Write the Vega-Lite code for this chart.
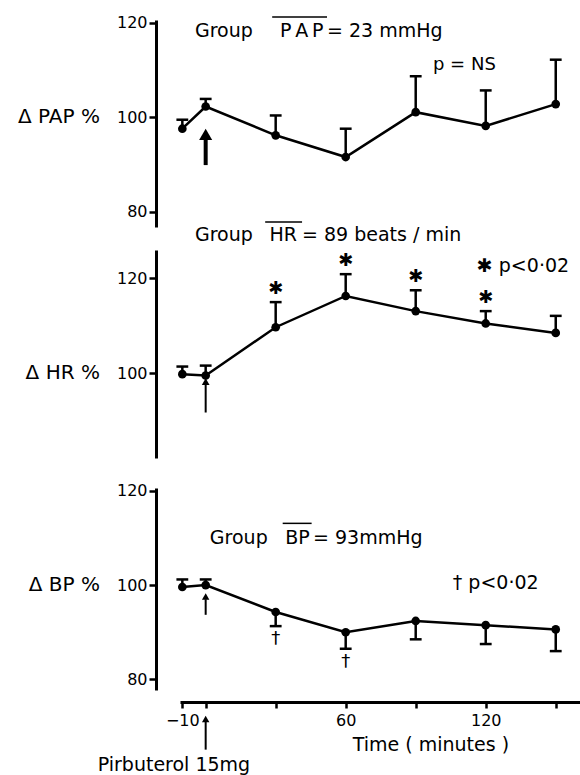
{
  "$schema": "https://vega.github.io/schema/vega-lite/v6.json",
  "autosize": {"type": "none"},
  "padding": {"left": 180, "top": 20, "right": 400, "bottom": 755},
  "background": "white",
  "bounds": "flush",
  "spacing": 23,
  "config": {
    "view": {"stroke": null},
    "text": {"font": "DejaVu Sans", "color": "black", "fill": "black"},
    "axis": {"labelFont": "DejaVu Sans", "labelColor": "black", "domainColor": "black", "tickColor": "black", "grid": false, "domainCap": "butt"}
  },
  "datasets": {
    "pap": [
      {"t": -10, "v": 97.6, "e": 99.5},
      {"t": 0, "v": 102.3, "e": 103.9},
      {"t": 30, "v": 96.2, "e": 100.4},
      {"t": 60, "v": 91.6, "e": 97.6},
      {"t": 90, "v": 101.1, "e": 108.7},
      {"t": 120, "v": 98.2, "e": 105.7},
      {"t": 150, "v": 102.8, "e": 112.2}
    ],
    "hr": [
      {"t": -10, "v": 99.8, "e": 101.4, "sig": false},
      {"t": 0, "v": 99.5, "e": 101.6, "sig": false},
      {"t": 30, "v": 109.7, "e": 115.0, "sig": true},
      {"t": 60, "v": 116.3, "e": 120.9, "sig": true},
      {"t": 90, "v": 113.1, "e": 117.5, "sig": true},
      {"t": 120, "v": 110.5, "e": 113.1, "sig": true},
      {"t": 150, "v": 108.5, "e": 112.1, "sig": false}
    ],
    "bp": [
      {"t": -10, "v": 99.6, "e": 101.2, "sig": false},
      {"t": 0, "v": 100.0, "e": 101.2, "sig": false},
      {"t": 30, "v": 94.3, "e": 91.3, "sig": true},
      {"t": 60, "v": 90.0, "e": 86.5, "sig": true},
      {"t": 90, "v": 92.4, "e": 88.5, "sig": false},
      {"t": 120, "v": 91.5, "e": 87.5, "sig": false},
      {"t": 150, "v": 90.6, "e": 86.0, "sig": false}
    ]
  },
  "vconcat": [
    {
      "width": 400,
      "height": 207,
      "layer": [
        {
          "data": {"name": "pap"},
          "mark": {"type": "rule", "color": "black", "strokeWidth": 2.5},
          "encoding": {
            "x": {"field": "t", "type": "quantitative", "scale": {"domain": [-11, 160.4], "nice": false, "zero": false}, "axis": null},
            "y": {"field": "v", "type": "quantitative", "title": null, "scale": {"domain": [76.8, 120.6], "nice": false, "zero": false},
                  "axis": {"values": [80, 100, 120], "offset": 24, "tickSize": 7, "tickWidth": 2.5, "domainWidth": 3, "labelFontSize": 16, "labelPadding": 2}},
            "y2": {"field": "e"}
          }
        },
        {
          "data": {"name": "pap"},
          "mark": {"type": "point", "shape": "M-1,0L1,0", "color": "black", "strokeWidth": 2.5, "size": 140, "opacity": 1},
          "encoding": {
            "x": {"field": "t", "type": "quantitative"},
            "y": {"field": "e", "type": "quantitative", "title": null}
          }
        },
        {
          "data": {"name": "pap"},
          "mark": {"type": "line", "color": "black", "strokeWidth": 2.5},
          "encoding": {
            "x": {"field": "t", "type": "quantitative"},
            "y": {"field": "v", "type": "quantitative", "title": null}
          }
        },
        {
          "data": {"name": "pap"},
          "mark": {"type": "circle", "color": "black", "size": 75, "opacity": 1},
          "encoding": {
            "x": {"field": "t", "type": "quantitative"},
            "y": {"field": "v", "type": "quantitative", "title": null}
          }
        },
        {
          "data": {"values": [{"t": 0, "a": 89.9, "b": 95.8}]},
          "mark": {"type": "rule", "color": "black", "strokeWidth": 4},
          "encoding": {
            "x": {"field": "t", "type": "quantitative"},
            "y": {"field": "a", "type": "quantitative", "title": null},
            "y2": {"field": "b"}
          }
        },
        {
          "data": {"values": [{"t": 0, "a": 96.4}]},
          "mark": {"type": "point", "shape": "triangle-up", "filled": true, "color": "black", "size": 170, "opacity": 1},
          "encoding": {
            "x": {"field": "t", "type": "quantitative"},
            "y": {"field": "a", "type": "quantitative", "title": null}
          }
        },
        {
          "data": {"values": [{"t": 28.5, "t2": 52.0, "y": 121.25}]},
          "mark": {"type": "rule", "color": "black", "strokeWidth": 1.5},
          "encoding": {
            "x": {"field": "t", "type": "quantitative"},
            "x2": {"field": "t2"},
            "y": {"field": "y", "type": "quantitative", "title": null}
          }
        },
        {
          "data": {"values": [{"t": -45.3, "y": 100, "label": "Δ PAP %"}]},
          "mark": {"type": "text", "align": "right", "baseline": "middle", "fontSize": 20, "color": "black"},
          "encoding": {
            "x": {"field": "t", "type": "quantitative"},
            "y": {"field": "y", "type": "quantitative", "title": null},
            "text": {"field": "label"}
          }
        },
        {
          "data": {"values": [
            {"t": -4.6, "y": 118.3, "label": "Group"},
            {"t": 52.0, "y": 118.3, "label": "= 23 mmHg"}
          ]},
          "mark": {"type": "text", "align": "left", "baseline": "middle", "fontSize": 19, "color": "black"},
          "encoding": {
            "x": {"field": "t", "type": "quantitative"},
            "y": {"field": "y", "type": "quantitative", "title": null},
            "text": {"field": "label"}
          }
        },
        {
          "data": {"values": [
            {"t": 41.2, "y": 118.3, "label": "P\u2009A\u2009P"}
          ]},
          "mark": {"type": "text", "align": "center", "baseline": "middle", "fontSize": 19, "color": "black"},
          "encoding": {
            "x": {"field": "t", "type": "quantitative"},
            "y": {"field": "y", "type": "quantitative", "title": null},
            "text": {"field": "label"}
          }
        },
        {
          "data": {"values": [
            {"t": 97.4, "y": 111.1, "label": "p = NS"}
          ]},
          "mark": {"type": "text", "align": "left", "baseline": "middle", "fontSize": 18, "color": "black"},
          "encoding": {
            "x": {"field": "t", "type": "quantitative"},
            "y": {"field": "y", "type": "quantitative", "title": null},
            "text": {"field": "label"}
          }
        }
      ]
    },
    {
      "bounds": "flush",
      "spacing": 30,
      "vconcat": [
        {
          "width": 400,
          "height": 208,
          "layer": [
            {
              "data": {"name": "hr"},
              "mark": {"type": "rule", "color": "black", "strokeWidth": 2.5},
              "encoding": {
                "x": {"field": "t", "type": "quantitative", "scale": {"domain": [-11, 160.4], "nice": false, "zero": false}, "axis": null},
                "y": {"field": "v", "type": "quantitative", "title": null, "scale": {"domain": [82.1, 126], "nice": false, "zero": false},
                      "axis": {"values": [80, 100, 120], "offset": 24, "tickSize": 7, "tickWidth": 2.5, "domainWidth": 3, "labelFontSize": 16, "labelPadding": 2}},
                "y2": {"field": "e"}
              }
            },
            {
              "data": {"name": "hr"},
              "mark": {"type": "point", "shape": "M-1,0L1,0", "color": "black", "strokeWidth": 2.5, "size": 140, "opacity": 1},
              "encoding": {
                "x": {"field": "t", "type": "quantitative"},
                "y": {"field": "e", "type": "quantitative", "title": null}
              }
            },
            {
              "data": {"name": "hr"},
              "mark": {"type": "line", "color": "black", "strokeWidth": 2.5},
              "encoding": {
                "x": {"field": "t", "type": "quantitative"},
                "y": {"field": "v", "type": "quantitative", "title": null}
              }
            },
            {
              "data": {"name": "hr"},
              "mark": {"type": "circle", "color": "black", "size": 75, "opacity": 1},
              "encoding": {
                "x": {"field": "t", "type": "quantitative"},
                "y": {"field": "v", "type": "quantitative", "title": null}
              }
            },
            {
              "data": {"name": "hr"},
              "transform": [{"filter": "datum.sig"}],
              "mark": {"type": "text", "text": "✱", "fontSize": 18, "baseline": "middle", "align": "center", "dy": -13, "color": "black", "fill": "black"},
              "encoding": {
                "x": {"field": "t", "type": "quantitative"},
                "y": {"field": "e", "type": "quantitative", "title": null}
              }
            },
            {
              "data": {"values": [{"t": 0, "a": 91.7, "b": 97.6}]},
              "mark": {"type": "rule", "color": "black", "strokeWidth": 2},
              "encoding": {
                "x": {"field": "t", "type": "quantitative"},
                "y": {"field": "a", "type": "quantitative", "title": null},
                "y2": {"field": "b"}
              }
            },
            {
              "data": {"values": [{"t": 0, "a": 98.2}]},
              "mark": {"type": "point", "shape": "triangle-up", "filled": true, "color": "black", "size": 60, "opacity": 1},
              "encoding": {
                "x": {"field": "t", "type": "quantitative"},
                "y": {"field": "a", "type": "quantitative", "title": null}
              }
            },
            {
              "data": {"values": [{"t": 25.5, "t2": 41.3, "y": 131.9}]},
              "mark": {"type": "rule", "color": "black", "strokeWidth": 1.5},
              "encoding": {
                "x": {"field": "t", "type": "quantitative"},
                "x2": {"field": "t2"},
                "y": {"field": "y", "type": "quantitative", "title": null}
              }
            },
            {
              "data": {"values": [{"t": -45.3, "y": 100, "label": "Δ HR %"}]},
              "mark": {"type": "text", "align": "right", "baseline": "middle", "fontSize": 20, "color": "black"},
              "encoding": {
                "x": {"field": "t", "type": "quantitative"},
                "y": {"field": "y", "type": "quantitative", "title": null},
                "text": {"field": "label"}
              }
            },
            {
              "data": {"values": [
                {"t": -4.6, "y": 129.2, "label": "Group"},
                {"t": 41.3, "y": 129.2, "label": "= 89 beats / min"},
                {"t": 116.2, "y": 122.6, "label": "✱ p<0·02"}
              ]},
              "mark": {"type": "text", "align": "left", "baseline": "middle", "fontSize": 19, "color": "black"},
              "encoding": {
                "x": {"field": "t", "type": "quantitative"},
                "y": {"field": "y", "type": "quantitative", "title": null},
                "text": {"field": "label"}
              }
            },
            {
              "data": {"values": [
                {"t": 33.2, "y": 129.2, "label": "HR"}
              ]},
              "mark": {"type": "text", "align": "center", "baseline": "middle", "fontSize": 19, "color": "black"},
              "encoding": {
                "x": {"field": "t", "type": "quantitative"},
                "y": {"field": "y", "type": "quantitative", "title": null},
                "text": {"field": "label"}
              }
            }
          ]
        },
        {
          "width": 400,
          "height": 202,
          "layer": [
            {
              "data": {"name": "bp"},
              "mark": {"type": "rule", "color": "black", "strokeWidth": 2.5},
              "encoding": {
                "x": {"field": "t", "type": "quantitative", "scale": {"domain": [-11, 160.4], "nice": false, "zero": false},
                      "axis": {"values": [-10, 0, 30, 60, 90, 120, 150], "labelExpr": "datum.value == -10 || datum.value == 60 || datum.value == 120 ? datum.label : ''", "offset": 12, "tickSize": 6, "tickWidth": 2.5, "domainWidth": 3, "labelFontSize": 16, "labelPadding": 4, "title": null}},
                "y": {"field": "v", "type": "quantitative", "title": null, "scale": {"domain": [77.75, 120.6], "nice": false, "zero": false},
                      "axis": {"values": [80, 100, 120], "offset": 24, "tickSize": 7, "tickWidth": 2.5, "domainWidth": 3, "labelFontSize": 16, "labelPadding": 2}},
                "y2": {"field": "e"}
              }
            },
            {
              "data": {"name": "bp"},
              "mark": {"type": "point", "shape": "M-1,0L1,0", "color": "black", "strokeWidth": 2.5, "size": 140, "opacity": 1},
              "encoding": {
                "x": {"field": "t", "type": "quantitative"},
                "y": {"field": "e", "type": "quantitative", "title": null}
              }
            },
            {
              "data": {"name": "bp"},
              "mark": {"type": "line", "color": "black", "strokeWidth": 2.5},
              "encoding": {
                "x": {"field": "t", "type": "quantitative"},
                "y": {"field": "v", "type": "quantitative", "title": null}
              }
            },
            {
              "data": {"name": "bp"},
              "mark": {"type": "circle", "color": "black", "size": 75, "opacity": 1},
              "encoding": {
                "x": {"field": "t", "type": "quantitative"},
                "y": {"field": "v", "type": "quantitative", "title": null}
              }
            },
            {
              "data": {"name": "bp"},
              "transform": [{"filter": "datum.sig"}],
              "mark": {"type": "text", "text": "†", "fontSize": 18, "baseline": "middle", "align": "center", "dy": 13, "color": "black", "fill": "black"},
              "encoding": {
                "x": {"field": "t", "type": "quantitative"},
                "y": {"field": "e", "type": "quantitative", "title": null}
              }
            },
            {
              "data": {"values": [{"t": 0, "a": 93.7, "b": 97.0}, {"t": 0, "a": 65.1, "b": 71.0}]},
              "mark": {"type": "rule", "color": "black", "strokeWidth": 2},
              "encoding": {
                "x": {"field": "t", "type": "quantitative"},
                "y": {"field": "a", "type": "quantitative", "title": null},
                "y2": {"field": "b"}
              }
            },
            {
              "data": {"values": [{"t": 0, "a": 97.6}, {"t": 0, "a": 71.6}]},
              "mark": {"type": "point", "shape": "triangle-up", "filled": true, "color": "black", "size": 55, "opacity": 1},
              "encoding": {
                "x": {"field": "t", "type": "quantitative"},
                "y": {"field": "a", "type": "quantitative", "title": null}
              }
            },
            {
              "data": {"values": [{"t": 33.0, "t2": 45.4, "y": 113.1}]},
              "mark": {"type": "rule", "color": "black", "strokeWidth": 1.5},
              "encoding": {
                "x": {"field": "t", "type": "quantitative"},
                "x2": {"field": "t2"},
                "y": {"field": "y", "type": "quantitative", "title": null}
              }
            },
            {
              "data": {"values": [{"t": -45.3, "y": 100, "label": "Δ BP %"}]},
              "mark": {"type": "text", "align": "right", "baseline": "middle", "fontSize": 20, "color": "black"},
              "encoding": {
                "x": {"field": "t", "type": "quantitative"},
                "y": {"field": "y", "type": "quantitative", "title": null},
                "text": {"field": "label"}
              }
            },
            {
              "data": {"values": [
                {"t": 1.8, "y": 110.0, "label": "Group"},
                {"t": 46.0, "y": 110.0, "label": "= 93mmHg"},
                {"t": 105.9, "y": 100.4, "label": "† p<0·02"}
              ]},
              "mark": {"type": "text", "align": "left", "baseline": "middle", "fontSize": 19, "color": "black"},
              "encoding": {
                "x": {"field": "t", "type": "quantitative"},
                "y": {"field": "y", "type": "quantitative", "title": null},
                "text": {"field": "label"}
              }
            },
            {
              "data": {"values": [
                {"t": 39.3, "y": 110.0, "label": "BP"},
                {"t": 96.5, "y": 66.1, "label": "Time ( minutes )"},
                {"t": -13.6, "y": 61.9, "label": "Pirbuterol 15mg"}
              ]},
              "mark": {"type": "text", "align": "center", "baseline": "middle", "fontSize": 19, "color": "black"},
              "encoding": {
                "x": {"field": "t", "type": "quantitative"},
                "y": {"field": "y", "type": "quantitative", "title": null},
                "text": {"field": "label"}
              }
            }
          ]
        }
      ]
    }
  ]
}
